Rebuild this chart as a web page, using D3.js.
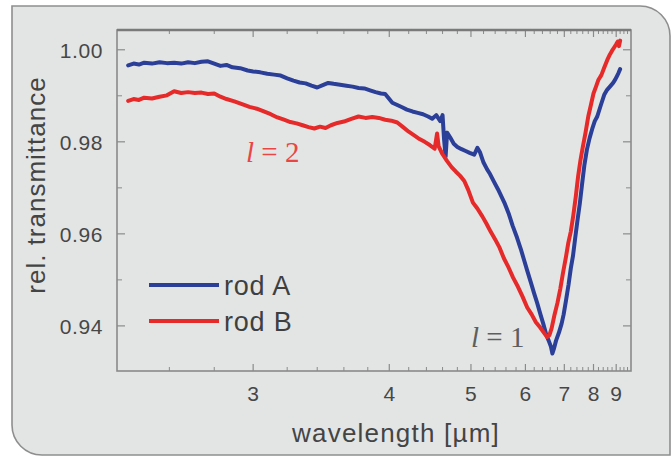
<!DOCTYPE html>
<html>
<head>
<meta charset="utf-8">
<script src="https://cdn.jsdelivr.net/npm/d3@7"></script>
<style>
  html, body { margin: 0; padding: 0; background: #ffffff; }
  svg { display: block; }
</style>
</head>
<body>
<svg id="chart" width="672" height="456"></svg>
<script>
// Rod A: wavelength (µm) and relative transmittance
const wavelengthA = [2.44,2.46,2.48,2.50,2.53,2.56,2.59,2.62,2.65,2.68,2.71,2.74,2.77,2.80,2.83,2.86,2.89,2.93,2.97,3.00,
  3.04,3.08,3.12,3.16,3.20,3.24,3.28,3.32,3.36,3.40,3.44,3.48,3.52,3.57,3.62,3.67,3.72,3.77,3.82,3.87,
  3.92,3.96,4.00,4.03,4.08,4.13,4.18,4.24,4.30,4.36,4.42,4.47,4.52,4.57,4.60,4.62,4.64,4.66,4.70,4.75,
  4.80,4.86,4.92,4.98,5.05,5.10,5.14,5.20,5.26,5.31,5.38,5.45,5.52,5.58,5.65,5.73,5.82,5.90,5.98,6.04,
  6.12,6.20,6.27,6.35,6.42,6.50,6.56,6.62,6.66,6.70,6.76,6.84,6.92,6.98,7.05,7.13,7.20,7.27,7.34,7.42,
  7.50,7.58,7.66,7.75,7.85,7.95,8.05,8.15,8.30,8.45,8.57,8.70,8.85,8.95,9.04,9.12,9.20];
const rodA = [0.9966,0.9970,0.9968,0.9972,0.9970,0.9973,0.9971,0.9972,0.9970,0.9973,0.9971,0.9974,0.9975,0.9970,0.9965,0.9967,0.9962,0.9960,0.9955,0.9953,
  0.9951,0.9948,0.9946,0.9944,0.9938,0.9933,0.9929,0.9927,0.9922,0.9918,0.9923,0.9928,0.9926,0.9924,0.9922,0.9920,0.9917,0.9916,0.9912,0.9908,
  0.9905,0.9904,0.9893,0.9885,0.9880,0.9875,0.9870,0.9866,0.9863,0.9860,0.9855,0.9850,0.9858,0.9845,0.9858,0.9805,0.9768,0.9820,0.9810,0.9796,
  0.9789,0.9784,0.9780,0.9776,0.9772,0.9787,0.9778,0.9755,0.9740,0.9730,0.9713,0.9697,0.9680,0.9665,0.9645,0.9618,0.9592,0.9567,0.9540,0.9520,
  0.9495,0.9470,0.9450,0.9425,0.9405,0.9380,0.9368,0.9355,0.9340,0.9350,0.9368,0.9385,0.9405,0.9425,0.9455,0.9490,0.9525,0.9552,0.9590,0.9630,
  0.9667,0.9710,0.9750,0.9783,0.9808,0.9828,0.9845,0.9855,0.9880,0.9903,0.9913,0.9920,0.9928,0.9935,0.9943,0.9950,0.9958];

// Rod B: wavelength (µm) and relative transmittance
const wavelengthB = [2.44,2.46,2.48,2.50,2.53,2.56,2.59,2.62,2.65,2.68,2.71,2.74,2.77,2.80,2.83,2.86,2.90,2.94,2.98,3.02,
  3.06,3.10,3.14,3.18,3.22,3.26,3.30,3.34,3.38,3.42,3.46,3.50,3.55,3.60,3.66,3.72,3.78,3.84,3.90,3.96,
  4.02,4.08,4.14,4.20,4.26,4.32,4.38,4.44,4.50,4.53,4.55,4.60,4.66,4.72,4.78,4.84,4.90,4.96,5.03,5.10,
  5.18,5.25,5.32,5.40,5.48,5.56,5.65,5.74,5.84,5.94,6.04,6.14,6.24,6.34,6.44,6.52,6.58,6.64,6.72,6.80,
  6.88,6.96,7.05,7.12,7.20,7.28,7.36,7.44,7.52,7.60,7.70,7.80,7.90,8.00,8.10,8.20,8.32,8.45,8.58,8.70,
  8.80,8.90,9.00,9.08,9.14,9.20];
const rodB = [0.9889,0.9893,0.9891,0.9896,0.9894,0.9898,0.9901,0.9910,0.9906,0.9908,0.9906,0.9907,0.9904,0.9905,0.9898,0.9893,0.9888,0.9882,0.9876,0.9872,
  0.9866,0.9860,0.9853,0.9848,0.9843,0.9840,0.9836,0.9832,0.9829,0.9833,0.9830,0.9836,0.9841,0.9844,0.9850,0.9855,0.9852,0.9854,0.9852,0.9848,
  0.9846,0.9842,0.9832,0.9822,0.9814,0.9806,0.9800,0.9793,0.9785,0.9818,0.9790,0.9773,0.9758,0.9745,0.9735,0.9726,0.9715,0.9695,0.9668,0.9655,
  0.9638,0.9622,0.9605,0.9588,0.9570,0.9547,0.9527,0.9505,0.9485,0.9463,0.9440,0.9425,0.9408,0.9397,0.9385,0.9376,0.9380,0.9395,0.9425,0.9450,
  0.9480,0.9515,0.9550,0.9580,0.9605,0.9640,0.9680,0.9725,0.9760,0.9788,0.9820,0.9855,0.9880,0.9905,0.9920,0.9935,0.9945,0.9962,0.9978,0.9990,
  0.9998,1.0005,1.0012,1.0018,1.0008,1.0020];

// Axis tick labels
const xTickLabels = [3, 4, 5, 6, 7, 8, 9];
const yTickLabels = [0.94, 0.96, 0.98, 1.00];
const yMinorTicks = [0.95, 0.97, 0.99];

const seriesNames = ["rod A", "rod B"];
const seriesColors = ["#2b3f98", "#e62a2a"];

const sans = "'Liberation Sans', Arial, Helvetica, sans-serif";
const serif = "'Liberation Serif', 'Times New Roman', serif";

const svg = d3.select("#chart");

// Background panel: square top-left corner, rounded top-right and bottom-left
svg.append("path")
  .attr("d", "M12,6 H640 A30,30 0 0 1 670,36 V455 H42 A30,30 0 0 1 12,425 Z")
  .attr("fill", "#e3e5e5")
  .attr("stroke", "#8e8e8e")
  .attr("stroke-width", 1.6);

const plot = { left: 117, right: 631, top: 30, bottom: 371 };

// The horizontal axis is linear in wavenumber (1/λ) while labelled in wavelength
const xs = d3.scaleLinear().domain([1 / 2.4, 1 / 9.8]).range([plot.left, plot.right]);
const x = lam => xs(1 / lam);
const y = d3.scaleLinear().domain([0.9302, 1.0043]).range([plot.bottom, plot.top]);

// Minor wavelength ticks every 0.2 µm
const xMinor = d3.range(26, 98, 2).map(d => d / 10).filter(d => Math.abs(d - Math.round(d)) > 1e-6);

const axisColor = "#8a8a8a";
const g = svg.append("g");

// Ticks along bottom and top edges (pointing inward)
[plot.bottom, plot.top].forEach((yy, i) => {
  const dir = i === 0 ? -1 : 1;
  g.selectAll(null).data(xMinor).enter().append("line")
    .attr("x1", d => x(d)).attr("x2", d => x(d))
    .attr("y1", yy).attr("y2", yy + dir * 4)
    .attr("stroke", axisColor).attr("stroke-width", 1);
  g.selectAll(null).data(xTickLabels).enter().append("line")
    .attr("x1", d => x(d)).attr("x2", d => x(d))
    .attr("y1", yy).attr("y2", yy + dir * 7)
    .attr("stroke", axisColor).attr("stroke-width", 1.2);
});

// Ticks along left and right edges (pointing inward)
[plot.left, plot.right].forEach((xx, i) => {
  const dir = i === 0 ? 1 : -1;
  g.selectAll(null).data(yTickLabels).enter().append("line")
    .attr("x1", xx).attr("x2", xx + dir * 8)
    .attr("y1", d => y(d)).attr("y2", d => y(d))
    .attr("stroke", axisColor).attr("stroke-width", 1.2);
  g.selectAll(null).data(yMinorTicks).enter().append("line")
    .attr("x1", xx).attr("x2", xx + dir * 5)
    .attr("y1", d => y(d)).attr("y2", d => y(d))
    .attr("stroke", axisColor).attr("stroke-width", 1);
});

// Plot frame
g.append("rect")
  .attr("x", plot.left).attr("y", plot.top)
  .attr("width", plot.right - plot.left).attr("height", plot.bottom - plot.top)
  .attr("fill", "none").attr("stroke", axisColor).attr("stroke-width", 1.6);
g.append("line")
  .attr("x1", plot.left).attr("x2", plot.right)
  .attr("y1", plot.top).attr("y2", plot.top)
  .attr("stroke", "#7a7a7a").attr("stroke-width", 2.4);

// Tick labels
g.selectAll(null).data(xTickLabels).enter().append("text")
  .attr("x", d => x(d)).attr("y", 401)
  .attr("text-anchor", "middle")
  .style("font-family", sans)
  .attr("font-size", 21).attr("fill", "#474747")
  .text(d => d);

g.selectAll(null).data(yTickLabels).enter().append("text")
  .attr("x", 103).attr("y", d => y(d) + 8)
  .attr("text-anchor", "end")
  .style("font-family", sans)
  .attr("font-size", 21).attr("letter-spacing", 0.6).attr("fill", "#474747")
  .text(d => d3.format(".2f")(d));

// Axis titles
svg.append("text")
  .attr("x", 396).attr("y", 442)
  .attr("text-anchor", "middle")
  .style("font-family", sans)
  .attr("font-size", 26).attr("letter-spacing", 1.2).attr("fill", "#444")
  .text("wavelength [µm]");

svg.append("text")
  .attr("transform", "translate(45,185) rotate(-90)")
  .attr("text-anchor", "middle")
  .style("font-family", sans)
  .attr("font-size", 26).attr("letter-spacing", 1).attr("fill", "#444")
  .text("rel. transmittance");

// Spectra
const line = d3.line().x(d => x(d[0])).y(d => y(d[1]));
const series = [d3.zip(wavelengthA, rodA), d3.zip(wavelengthB, rodB)];

svg.append("g").selectAll("path").data(series).enter().append("path")
  .attr("d", line)
  .attr("fill", "none")
  .attr("stroke", (d, i) => seriesColors[i])
  .attr("stroke-width", 4)
  .attr("stroke-linejoin", "round")
  .attr("stroke-linecap", "round");

// Legend
const legend = svg.append("g");
seriesNames.forEach((name, i) => {
  const ly = 285 + i * 36;
  legend.append("line")
    .attr("x1", 149).attr("x2", 219).attr("y1", ly).attr("y2", ly)
    .attr("stroke", seriesColors[i]).attr("stroke-width", 4);
  legend.append("text")
    .attr("x", 224).attr("y", ly + 10)
    .style("font-family", sans)
    .attr("font-size", 27).attr("letter-spacing", 0.8).attr("fill", "#3f3f3f")
    .text(name);
});

// Mode labels
function modeLabel(px, py, n, color) {
  const t = svg.append("text")
    .attr("x", px).attr("y", py)
    .style("font-family", serif)
    .attr("font-size", 29).attr("fill", color);
  t.append("tspan").attr("font-style", "italic").text("l");
  t.append("tspan").text(" = " + n);
}
modeLabel(246, 162, 2, "#ea4545");
modeLabel(471, 347, 1, "#5e5e5e");
</script>
</body>
</html>
